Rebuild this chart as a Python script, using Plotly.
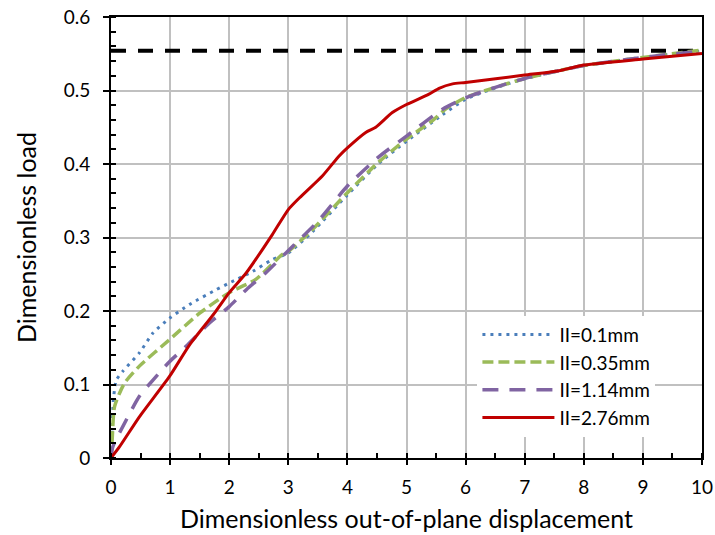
import plotly.graph_objects as go

# Series data
x_01 = [0, 0.02, 0.04, 0.09, 0.2, 0.48, 0.71, 0.99, 1.33, 1.78, 2.0, 2.4, 2.73, 3.0, 3.41, 4.0, 4.52, 5.0, 5.61, 6.0, 6.45, 7.0, 7.58, 8.0, 9.0, 10.0]
y_01 = [0, 0.04, 0.079, 0.106, 0.118, 0.143, 0.17, 0.19, 0.209, 0.229, 0.238, 0.254, 0.27, 0.279, 0.308, 0.358, 0.4, 0.431, 0.467, 0.488, 0.502, 0.516, 0.527, 0.534, 0.545, 0.554]

x_035 = [0, 0.02, 0.06, 0.23, 0.48, 0.99, 1.5, 2.0, 2.45, 2.9, 3.0, 3.41, 4.0, 4.52, 5.0, 5.44, 5.66, 6.0, 6.45, 7.0, 7.58, 8.0, 9.0, 10.0]
y_035 = [0, 0.025, 0.07, 0.102, 0.125, 0.161, 0.197, 0.225, 0.243, 0.277, 0.281, 0.311, 0.361, 0.402, 0.434, 0.459, 0.4746, 0.4905, 0.503, 0.5164, 0.527, 0.534, 0.545, 0.555]

x_114 = [0, 0.03, 0.26, 0.48, 0.71, 0.99, 1.27, 1.67, 2.0, 2.29, 2.62, 2.96, 3.5, 4.0, 4.52, 5.0, 5.61, 6.0, 6.45, 7.0, 7.58, 8.0, 9.0, 10.0]
y_114 = [0, 0.015, 0.052, 0.084, 0.106, 0.131, 0.152, 0.184, 0.206, 0.229, 0.252, 0.279, 0.322, 0.37, 0.409, 0.438, 0.4746, 0.49, 0.503, 0.5164, 0.527, 0.534, 0.545, 0.554]

x_276 = [0, 0.145, 0.48, 0.99, 1.33, 1.75, 2.0, 2.29, 2.73, 3.0, 3.19, 3.58, 3.86, 4.0, 4.31, 4.48, 4.76, 5.0, 5.38, 5.55, 5.78, 6.0, 7.0, 7.58, 7.8, 8.0, 9.0, 10.0]
y_276 = [0, 0.0154, 0.056, 0.111, 0.154, 0.197, 0.225, 0.252, 0.304, 0.338, 0.354, 0.384, 0.411, 0.422, 0.443, 0.45, 0.47, 0.481, 0.495, 0.503, 0.509, 0.511, 0.521, 0.527, 0.531, 0.5346, 0.5428, 0.5505]

x_limit = [0, 10]
y_limit = [0.554, 0.554]

names = ["II=0.1mm", "II=0.35mm", "II=1.14mm", "II=2.76mm"]

fig = go.Figure()
fig.add_trace(go.Scatter(x=x_limit, y=y_limit, mode="lines", showlegend=False,
                         line=dict(color="black", width=4, dash="15px,12px")))
fig.add_trace(go.Scatter(x=x_01, y=y_01, mode="lines", name=names[0],
                         line=dict(color="#4A7EBB", width=3, dash="3px,5px", shape="spline", smoothing=0.6)))
fig.add_trace(go.Scatter(x=x_035, y=y_035, mode="lines", name=names[1],
                         line=dict(color="#9BBB59", width=3.5, dash="11px,5px", shape="spline", smoothing=0.6)))
fig.add_trace(go.Scatter(x=x_114, y=y_114, mode="lines", name=names[2],
                         line=dict(color="#8064A2", width=3.5, dash="16px,11px", shape="spline", smoothing=0.6)))
fig.add_trace(go.Scatter(x=x_276, y=y_276, mode="lines", name=names[3],
                         line=dict(color="#C00000", width=3, shape="spline", smoothing=0.6)))

font_family = "Lato, Open Sans, sans-serif"

fig.update_layout(
    width=715, height=535,
    margin=dict(l=111, r=13, t=17, b=77),
    paper_bgcolor="white", plot_bgcolor="white",
    font=dict(family=font_family, color="black", size=19),
    legend=dict(x=0.62, y=0.323, xanchor="left", yanchor="top",
                bgcolor="white", font=dict(size=19), itemwidth=72,
                tracegroupgap=0, traceorder="normal"),
    showlegend=True,
)
fig.update_xaxes(
    range=[0, 10], tickmode="linear", tick0=0, dtick=1,
    showgrid=True, gridcolor="#C0C0C0", gridwidth=1.5,
    showline=True, linecolor="black", linewidth=2, mirror=True,
    ticks="outside", ticklen=5, tickwidth=2, tickcolor="black",
    minor=dict(dtick=0.5, ticks="inside", ticklen=5, tickwidth=1.5, tickcolor="black", showgrid=False),
    zeroline=False, automargin=False, ticklabelstandoff=6,
    title=dict(text="Dimensionless out-of-plane displacement", font=dict(size=25), standoff=14),
    tickfont=dict(size=19),
)
fig.update_yaxes(
    range=[0, 0.6], tickmode="linear", tick0=0, dtick=0.1,
    showgrid=True, gridcolor="#C0C0C0", gridwidth=1.5,
    showline=True, linecolor="black", linewidth=2, mirror=True,
    ticks="outside", ticklen=6, tickwidth=2, tickcolor="black",
    minor=dict(dtick=0.02, ticks="inside", ticklen=5, tickwidth=1.5, tickcolor="black", showgrid=False),
    zeroline=False, automargin=False, ticklabelstandoff=9,
    tickformat="~g",
    title=dict(text="Dimensionless load", font=dict(size=25), standoff=20),
    tickfont=dict(size=19),
)

fig.write_html("out.html")
